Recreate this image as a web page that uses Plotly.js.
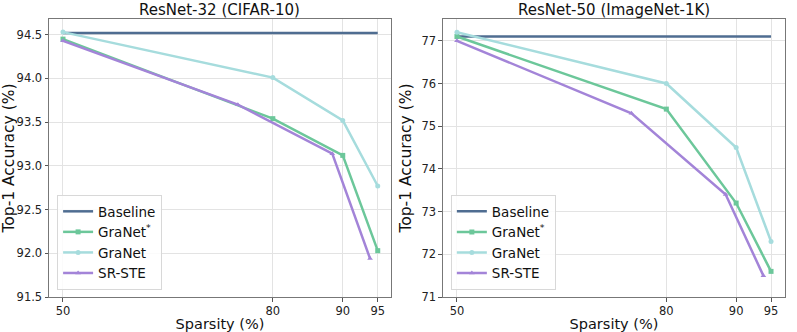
<!DOCTYPE html>
<html>
<head>
<meta charset="utf-8">
<script src="https://cdn.plot.ly/plotly-3.0.1.min.js"></script>
<style>
  html, body { margin: 0; padding: 0; background: #fff; }
  #viz { width: 797px; height: 332px; }
</style>
</head>
<body>
<div id="viz"></div>
<script>
// sparsity levels (%) for the dense-to-sparse methods
var sparsity = [50, 80, 90, 95];
// SR-STE uses N:M patterns, so its sparsity points sit elsewhere
var srSparsity = [50, 75, 88.5, 93.9];
var xTicks = [50, 80, 90, 95];

// ResNet-32 on CIFAR-10
var c10Baseline = [94.52, 94.52];
var c10GraNetStar = [94.45, 93.54, 93.12, 92.03];
var c10GraNet = [94.53, 94.01, 93.52, 92.77];
var c10SRSTE = [94.43, 93.70, 93.14, 91.94];

// ResNet-50 on ImageNet-1K
var inBaseline = [77.1, 77.1];
var inGraNetStar = [77.1, 75.4, 73.2, 71.6];
var inGraNet = [77.2, 76.0, 74.5, 72.3];
var inSRSTE = [77.0, 75.3, 73.4, 71.5];

var colBase = '#4f6d91';
var colStar = '#6cc79a';
var colGra = '#a6dcdd';
var colSR = '#a384d8';

function makeTraces(base, star, gra, sr, xa, ya, leg) {
  return [
    { x: [50, 95], y: base, name: 'Baseline', mode: 'lines', xaxis: xa, yaxis: ya, legend: leg,
      line: { color: colBase, width: 2.5 } },
    { x: sparsity, y: star, name: 'GraNet<sup>*</sup>', mode: 'lines+markers', xaxis: xa, yaxis: ya, legend: leg,
      line: { color: colStar, width: 2.5 }, marker: { symbol: 'square', size: 5, color: colStar } },
    { x: sparsity, y: gra, name: 'GraNet', mode: 'lines+markers', xaxis: xa, yaxis: ya, legend: leg,
      line: { color: colGra, width: 2.5 }, marker: { symbol: 'circle', size: 5, color: colGra } },
    { x: srSparsity, y: sr, name: 'SR-STE', mode: 'lines+markers', xaxis: xa, yaxis: ya, legend: leg,
      line: { color: colSR, width: 2.5 }, marker: { symbol: 'triangle-up', size: 5, color: colSR } }
  ];
}

var data = makeTraces(c10Baseline, c10GraNetStar, c10GraNet, c10SRSTE, 'x', 'y', 'legend')
  .concat(makeTraces(inBaseline, inGraNetStar, inGraNet, inSRSTE, 'x2', 'y2', 'legend2'));

var axisStyle = {
  showline: true, mirror: true, linecolor: '#777', linewidth: 1,
  showgrid: true, gridcolor: '#e3e3e3', gridwidth: 1,
  ticks: 'outside', ticklen: 3.5, tickcolor: '#555',
  tickfont: { size: 11.5, color: '#222' }, zeroline: false
};

function ax(extra) { return Object.assign({}, axisStyle, extra); }

var legendStyle = {
  bgcolor: 'rgba(255,255,255,0.85)', bordercolor: '#d8d8d8', borderwidth: 1,
  font: { size: 13.5, color: '#111' }, xanchor: 'left', yanchor: 'bottom',
  tracegroupgap: 0, itemwidth: 30
};

var layout = {
  width: 797, height: 332,
  margin: { l: 49, r: 12, t: 19, b: 35 },
  paper_bgcolor: '#fff', plot_bgcolor: '#fff',
  font: { family: 'DejaVu Sans, sans-serif', color: '#111' },
  showlegend: true,
  xaxis: ax({ domain: [0, 0.4647], range: [48, 96.9], tickvals: xTicks, anchor: 'y',
    title: { text: 'Sparsity (%)', font: { size: 14.5 }, standoff: 2 } }),
  yaxis: ax({ range: [91.5, 94.68], tickvals: [91.5, 92.0, 92.5, 93.0, 93.5, 94.0, 94.5],
    tickformat: '.1f', anchor: 'x',
    title: { text: 'Top-1 Accuracy (%)', font: { size: 15.5 }, standoff: 6 } }),
  xaxis2: ax({ domain: [0.5353, 1], range: [48, 97], tickvals: xTicks, anchor: 'y2',
    title: { text: 'Sparsity (%)', font: { size: 14.5 }, standoff: 2 } }),
  yaxis2: ax({ range: [71, 77.51], tickvals: [71, 72, 73, 74, 75, 76, 77], anchor: 'x2',
    title: { text: 'Top-1 Accuracy (%)', font: { size: 15.5 }, standoff: 6 } }),
  legend: Object.assign({}, legendStyle, { x: 0.011, y: 0.025 }),
  legend2: Object.assign({}, legendStyle, { x: 0.546, y: 0.025 }),
  annotations: [
    { text: 'ResNet-32 (CIFAR-10)', xref: 'paper', yref: 'paper', x: 0.2323, y: 1,
      xanchor: 'center', yanchor: 'bottom', showarrow: false, font: { size: 15 }, yshift: -2 },
    { text: 'ResNet-50 (ImageNet-1K)', xref: 'paper', yref: 'paper', x: 0.7676, y: 1,
      xanchor: 'center', yanchor: 'bottom', showarrow: false, font: { size: 15 }, yshift: -2 }
  ]
};

Plotly.newPlot('viz', data, layout, { staticPlot: true });
</script>
</body>
</html>
